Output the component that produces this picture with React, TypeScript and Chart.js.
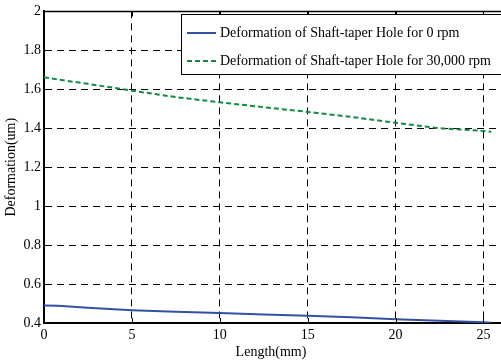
import React, { useEffect, useRef } from "react";
import { Chart, registerables } from "chart.js";

Chart.register(...registerables);

const lengthMm = [0, 0.8, 2.5, 5, 7.5, 10, 12.5, 15, 17.5, 20, 22.5, 25, 25.45];
const deformation0rpm = [0.490, 0.489, 0.478, 0.466, 0.458, 0.451, 0.444, 0.437, 0.430, 0.419, 0.411, 0.404, 0.401];
const deformation30000rpm = [1.662, 1.650, 1.628, 1.593, 1.560, 1.533, 1.508, 1.484, 1.458, 1.428, 1.400, 1.386, 1.382];
const xTickValues = [0, 5, 10, 15, 20, 25];
const yTickValues = [0.4, 0.6, 0.8, 1, 1.2, 1.4, 1.6, 1.8, 2];
const seriesLabels = [
  "Deformation of Shaft-taper Hole for 0 rpm",
  "Deformation of Shaft-taper Hole for 30,000 rpm",
];
const xTitle = "Length(mm)";
const yTitle = "Deformation(um)";

const FONT = "'Liberation Serif', 'Times New Roman', serif";
const BLUE = "#3350a6";
const GREEN = "#138a42";

const decorPlugin = {
  id: "decor",
  afterDraw(chart: any) {
    const ctx = chart.ctx;
    const { left, top, right, bottom } = chart.chartArea;
    const xs = chart.scales.x;
    const ys = chart.scales.y;
    ctx.save();
    // top border
    ctx.strokeStyle = "#000";
    ctx.lineWidth = 1.5;
    ctx.beginPath();
    ctx.moveTo(left, top);
    ctx.lineTo(right + 2, top);
    ctx.stroke();
    // inside ticks
    ctx.lineWidth = 1;
    xTickValues.forEach((v) => {
      const px = Math.round(xs.getPixelForValue(v)) + 0.5;
      ctx.beginPath();
      ctx.moveTo(px, bottom);
      ctx.lineTo(px, bottom - 5);
      ctx.moveTo(px, top);
      ctx.lineTo(px, top + 5);
      ctx.stroke();
    });
    yTickValues.forEach((v) => {
      const py = Math.round(ys.getPixelForValue(v)) + 0.5;
      ctx.beginPath();
      ctx.moveTo(left, py);
      ctx.lineTo(left + 5, py);
      ctx.stroke();
    });
    // titles
    ctx.fillStyle = "#000";
    ctx.font = `14px ${FONT}`;
    ctx.textAlign = "center";
    ctx.textBaseline = "middle";
    ctx.fillText(xTitle, 271, 352);
    ctx.save();
    ctx.translate(11, (top + bottom) / 2);
    ctx.rotate(-Math.PI / 2);
    ctx.fillText(yTitle, 0, 0);
    ctx.restore();
    // legend
    const bx = 181.5, by = 14.5, bw = 340, bh = 60;
    ctx.fillStyle = "#fff";
    ctx.fillRect(bx, by, bw, bh);
    ctx.strokeStyle = "#000";
    ctx.lineWidth = 1;
    ctx.strokeRect(bx, by, bw, bh);
    const rows = [33, 61];
    const colors = [BLUE, GREEN];
    rows.forEach((ry, i) => {
      ctx.strokeStyle = colors[i];
      ctx.lineWidth = 2;
      ctx.setLineDash(i === 1 ? [5, 3] : []);
      ctx.beginPath();
      ctx.moveTo(187, ry);
      ctx.lineTo(216, ry);
      ctx.stroke();
      ctx.setLineDash([]);
      ctx.fillStyle = "#000";
      ctx.font = `14px ${FONT}`;
      ctx.textAlign = "left";
      ctx.textBaseline = "middle";
      ctx.fillText(seriesLabels[i], 220, ry);
    });
    ctx.restore();
  },
};

export default function App() {
  const ref = useRef<HTMLCanvasElement>(null);
  useEffect(() => {
    if (!ref.current) return;
    const chart = new Chart(ref.current, {
      type: "line",
      data: {
        datasets: [
          {
            label: seriesLabels[0],
            data: lengthMm.map((x, i) => ({ x, y: deformation0rpm[i] })),
            borderColor: BLUE,
            borderWidth: 2,
            pointRadius: 0,
            fill: false,
            tension: 0,
          },
          {
            label: seriesLabels[1],
            data: lengthMm.map((x, i) => ({ x, y: deformation30000rpm[i] })),
            borderColor: GREEN,
            borderWidth: 2,
            borderDash: [5, 3],
            pointRadius: 0,
            fill: false,
            tension: 0,
          },
        ],
      },
      options: {
        animation: false,
        responsive: false,
        devicePixelRatio: 1,
        layout: { padding: { top: 9, right: 0, left: 0, bottom: 0 } },
        plugins: { legend: { display: false }, tooltip: { enabled: false } },
        scales: {
          x: {
            type: "linear",
            min: 0,
            max: 26,
            afterBuildTicks: (s: any) => {
              s.ticks = xTickValues.map((v) => ({ value: v }));
            },
            afterFit: (s: any) => {
              s.height = 41;
            },
            ticks: {
              color: "#000",
              font: { family: FONT, size: 14 },
              padding: 4,
              maxRotation: 0,
              callback: (v: any) => String(v),
            },
            grid: {
              color: "#000",
              lineWidth: 1,
              drawTicks: false,
            },
            border: { display: true, color: "#000", width: 2, dash: [7, 5] },
          },
          y: {
            type: "linear",
            min: 0.4,
            max: 2,
            afterBuildTicks: (s: any) => {
              s.ticks = yTickValues.map((v) => ({ value: v }));
            },
            afterFit: (s: any) => {
              s.width = 44;
            },
            ticks: {
              color: "#000",
              font: { family: FONT, size: 14 },
              padding: 3,
              callback: (v: any) => String(Math.round(v * 10) / 10),
            },
            grid: {
              color: "#000",
              lineWidth: 1,
              drawTicks: false,
            },
            border: { display: true, color: "#000", width: 2, dash: [7, 5] },
          },
        },
      } as any,
      plugins: [decorPlugin],
    });
    return () => chart.destroy();
  }, []);
  return (
    <div style={{ position: "absolute", left: 0, top: 0, width: 501, height: 364, background: "#fff" }}>
      <canvas ref={ref} width={501} height={364} style={{ width: 501, height: 364, display: "block" }} />
    </div>
  );
}
